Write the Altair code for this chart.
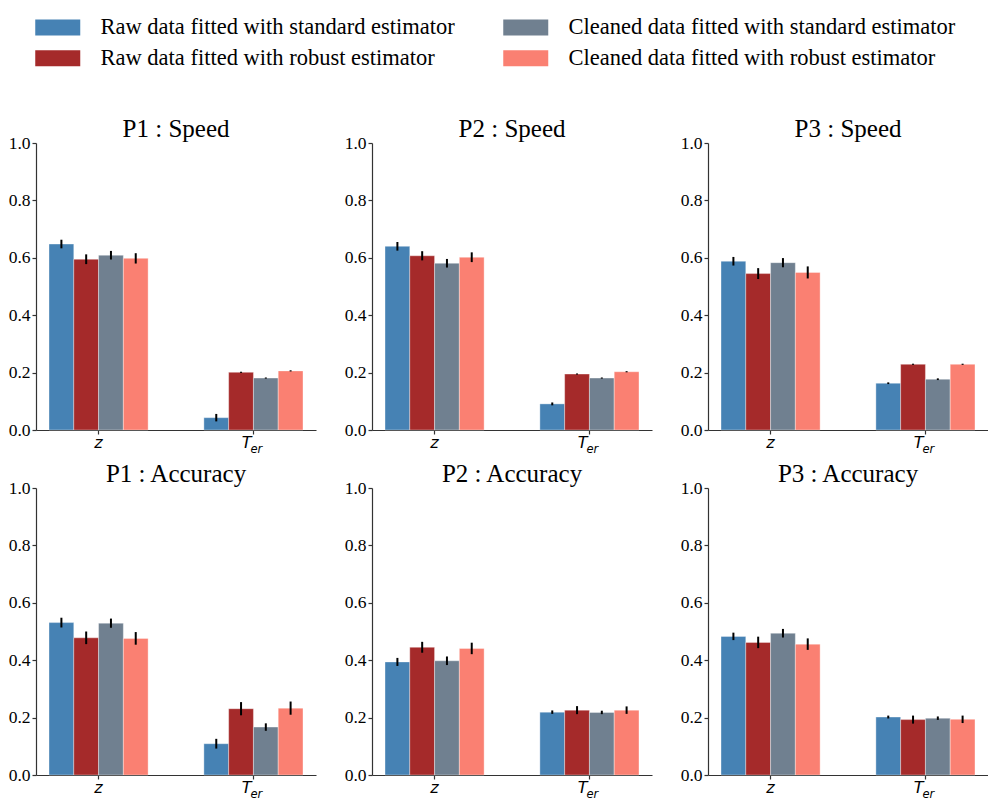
import altair as alt
import pandas as pd

series = [
    "Raw data fitted with standard estimator",
    "Raw data fitted with robust estimator",
    "Cleaned data fitted with standard estimator",
    "Cleaned data fitted with robust estimator",
]
color_range = ["#4682b4", "#a52a2a", "#708090", "#fa8072"]
params = ["z", "T_er"]
panels = ["P1 : Speed", "P2 : Speed", "P3 : Speed", "P1 : Accuracy", "P2 : Accuracy", "P3 : Accuracy"]

# values per panel: [z values for 4 series], [T_er values for 4 series], and error half-widths
p1_speed_z = [0.648, 0.595, 0.609, 0.598]
p1_speed_t = [0.043, 0.201, 0.181, 0.206]
p1_speed_z_err = [0.015, 0.017, 0.015, 0.018]
p1_speed_t_err = [0.013, 0.002, 0.002, 0.002]

p2_speed_z = [0.640, 0.607, 0.581, 0.602]
p2_speed_t = [0.091, 0.195, 0.181, 0.203]
p2_speed_z_err = [0.015, 0.016, 0.015, 0.017]
p2_speed_t_err = [0.005, 0.002, 0.002, 0.002]

p3_speed_z = [0.588, 0.545, 0.583, 0.549]
p3_speed_t = [0.163, 0.229, 0.177, 0.229]
p3_speed_z_err = [0.015, 0.019, 0.016, 0.021]
p3_speed_t_err = [0.003, 0.002, 0.003, 0.002]

p1_acc_z = [0.531, 0.478, 0.529, 0.476]
p1_acc_t = [0.109, 0.231, 0.167, 0.233]
p1_acc_z_err = [0.017, 0.022, 0.016, 0.022]
p1_acc_t_err = [0.017, 0.023, 0.013, 0.023]

p2_acc_z = [0.394, 0.445, 0.398, 0.441]
p2_acc_t = [0.219, 0.226, 0.218, 0.226]
p2_acc_z_err = [0.014, 0.019, 0.015, 0.020]
p2_acc_t_err = [0.006, 0.014, 0.006, 0.013]

p3_acc_z = [0.483, 0.462, 0.494, 0.456]
p3_acc_t = [0.202, 0.193, 0.198, 0.194]
p3_acc_z_err = [0.013, 0.020, 0.015, 0.020]
p3_acc_t_err = [0.005, 0.014, 0.006, 0.013]

panel_data = {
    "P1 : Speed": (p1_speed_z, p1_speed_t, p1_speed_z_err, p1_speed_t_err),
    "P2 : Speed": (p2_speed_z, p2_speed_t, p2_speed_z_err, p2_speed_t_err),
    "P3 : Speed": (p3_speed_z, p3_speed_t, p3_speed_z_err, p3_speed_t_err),
    "P1 : Accuracy": (p1_acc_z, p1_acc_t, p1_acc_z_err, p1_acc_t_err),
    "P2 : Accuracy": (p2_acc_z, p2_acc_t, p2_acc_z_err, p2_acc_t_err),
    "P3 : Accuracy": (p3_acc_z, p3_acc_t, p3_acc_z_err, p3_acc_t_err),
}

rows = []
for pn, (zv, tv, ze, te) in panel_data.items():
    for i, s in enumerate(series):
        rows.append(dict(panel=pn, param="z", series=s, value=zv[i], lo=zv[i] - ze[i], hi=zv[i] + ze[i]))
        rows.append(dict(panel=pn, param="T_er", series=s, value=tv[i], lo=tv[i] - te[i], hi=tv[i] + te[i]))
df = pd.DataFrame(rows)

labdf = pd.DataFrame([
    dict(param="z", main="z", sub=""),
    dict(param="T_er", main="T", sub="er"),
])

SERIF = "Liberation Serif"
W, H = 280, 287
AX = "#333333"

xscale = alt.Scale(domain=params, paddingInner=0.36, paddingOuter=0.084)
xoff_scale = alt.Scale(domain=series, paddingInner=0, paddingOuter=0)
color_scale = alt.Scale(domain=series, range=color_range)

x_axis = alt.Axis(labels=False, title=None, ticks=True, tickSize=4, grid=False,
                  domainColor=AX, tickColor=AX, domainWidth=1.2, tickWidth=1.2)
y_axis = alt.Axis(values=[0, 0.2, 0.4, 0.6, 0.8, 1.0], format=".1f", title=None, grid=False, tickSize=4,
                  labelFont=SERIF, labelFontSize=17.5, labelColor="black", labelPadding=2,
                  domainColor=AX, tickColor=AX, domainWidth=1.2, tickWidth=1.2)


def X():
    return alt.X("param:N", scale=xscale, sort=params, axis=x_axis)


def panel(pn):
    base = alt.Chart(df).transform_filter(alt.datum.panel == pn)
    xo = alt.XOffset("series:N", scale=xoff_scale, sort=series)
    bars = base.mark_bar(stroke="white", strokeWidth=0.8, strokeOpacity=0.45).encode(
        x=X(),
        xOffset=xo,
        y=alt.Y("value:Q", scale=alt.Scale(domain=[0, 1]), axis=y_axis),
        color=alt.Color("series:N", scale=color_scale, sort=series,
                        legend=alt.Legend(title=None, orient="none", legendX=10.5, legendY=-127,
                                          columns=2, columnPadding=47, rowPadding=8,
                                          symbolType="M-2.25,-0.8H2.25V0.8H-2.25Z", symbolSize=400,
                                          symbolStrokeWidth=0, symbolOpacity=1,
                                          labelFont=SERIF, labelFontSize=22.5, labelColor="black",
                                          labelOffset=31.5, labelLimit=600)),
    )
    errs = base.mark_rule(color="black", strokeWidth=2).encode(
        x=X(),
        xOffset=xo,
        y=alt.Y("lo:Q", scale=alt.Scale(domain=[0, 1]), axis=y_axis),
        y2="hi:Q",
    )
    lab = alt.Chart(labdf)
    zlab = lab.transform_filter(alt.datum.param == "z").mark_text(
        font="DejaVu Sans", fontStyle="italic", fontSize=16, baseline="alphabetic", align="center"
    ).encode(x=X(), y=alt.value(H + 18), text="main:N")
    tlab = lab.transform_filter(alt.datum.param == "T_er").mark_text(
        font="DejaVu Sans", fontStyle="italic", fontSize=16, baseline="alphabetic", align="right", dx=-2
    ).encode(x=X(), y=alt.value(H + 18), text="main:N")
    slab = lab.transform_filter(alt.datum.param == "T_er").mark_text(
        font="DejaVu Sans", fontStyle="italic", fontSize=11.5, baseline="alphabetic", align="left", dx=-3
    ).encode(x=X(), y=alt.value(H + 23), text="sub:N")
    return alt.layer(bars, errs, zlab, tlab, slab).properties(
        width=W, height=H,
        title=alt.Title(pn, font=SERIF, fontSize=25, fontWeight="normal", color="black", offset=-8),
    )


top = alt.hconcat(*[panel(p) for p in panels[:3]], spacing=28)
bottom = alt.hconcat(*[panel(p) for p in panels[3:]], spacing=28)
chart = (
    alt.vconcat(top, bottom, spacing=6)
    .properties(padding={"left": 0, "top": 8, "right": 0, "bottom": 0})
    .configure_view(stroke=None)
    .configure_axis(labelFont=SERIF, labelFontSize=17.5, labelColor="black")
)

chart.save("out.html", embed_options={"renderer": "svg", "actions": False})
